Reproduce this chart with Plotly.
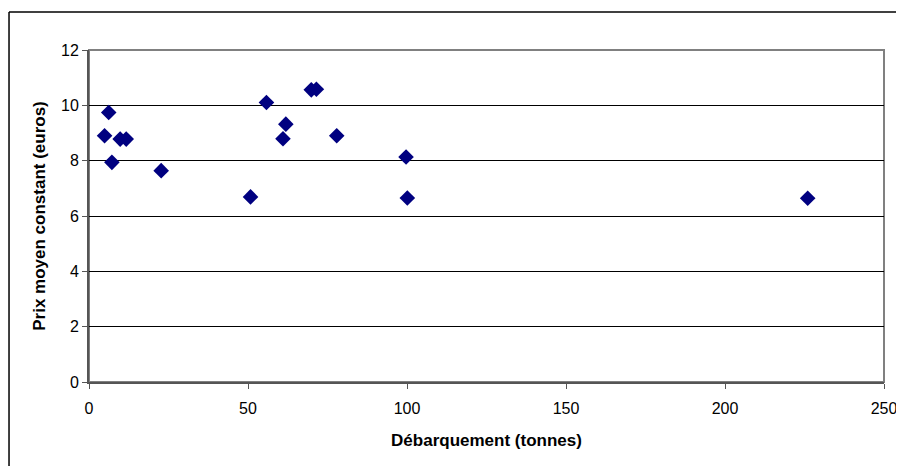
import plotly.graph_objects as go

# Débarquement (tonnes) vs prix moyen constant (euros)
debarquement = [4.9, 6.2, 7.2, 9.8, 11.7, 22.7, 50.8, 55.8, 61.0, 61.9,
                69.9, 71.5, 77.9, 99.7, 100.1, 226.0]
prix = [8.90, 9.74, 7.94, 8.78, 8.78, 7.64, 6.69, 10.10, 8.79, 9.32,
        10.56, 10.58, 8.90, 8.13, 6.65, 6.64]

x_ticks = [0, 50, 100, 150, 200, 250]
y_ticks = [0, 2, 4, 6, 8, 10, 12]

fig = go.Figure()
fig.add_trace(go.Scatter(
    x=debarquement, y=prix, mode='markers',
    marker=dict(symbol='diamond', size=12, color='#000080'),
    showlegend=False,
))

font = 'Liberation Sans, Arial, sans-serif'
# page body has an 8px margin, so margins are shifted by 8px
fig.update_layout(
    width=896, height=458,
    margin=dict(l=81, r=20, t=42, b=84, autoexpand=False),
    paper_bgcolor='white', plot_bgcolor='white',
    font=dict(family=font, size=16, color='black'),
    xaxis=dict(
        range=[0, 250], tickvals=x_ticks, showgrid=False, zeroline=False,
        showline=True, linecolor='#555555', linewidth=2,
        ticks='outside', ticklen=5, tickcolor='#555555',
        ticklabelstandoff=6,
        title=dict(text='<b>Débarquement (tonnes)</b>', standoff=18,
                   font=dict(size=17)),
    ),
    yaxis=dict(
        range=[0, 12], tickvals=y_ticks, showgrid=True, gridcolor='black',
        gridwidth=1, zeroline=False,
        showline=True, linecolor='#555555', linewidth=2,
        ticks='outside', ticklen=5, tickcolor='#555555',
        title=dict(text='<b>Prix moyen constant (euros)</b>', standoff=11,
                   font=dict(size=17)),
    ),
    shapes=[
        # plot area border
        dict(type='rect', xref='paper', yref='paper', x0=0, y0=0, x1=1, y1=1,
             line=dict(color='#808080', width=2), layer='below'),
        # chart frame (left and top edges; the rest is cut off)
        dict(type='line', xref='paper', yref='paper',
             x0=-0.1006, y0=-0.3, x1=-0.1006, y1=1.1145,
             line=dict(color='black', width=1.5)),
        dict(type='line', xref='paper', yref='paper',
             x0=-0.1006, y0=1.1145, x1=1.2, y1=1.1145,
             line=dict(color='black', width=1.5)),
    ],
)

fig.write_html("out.html")
